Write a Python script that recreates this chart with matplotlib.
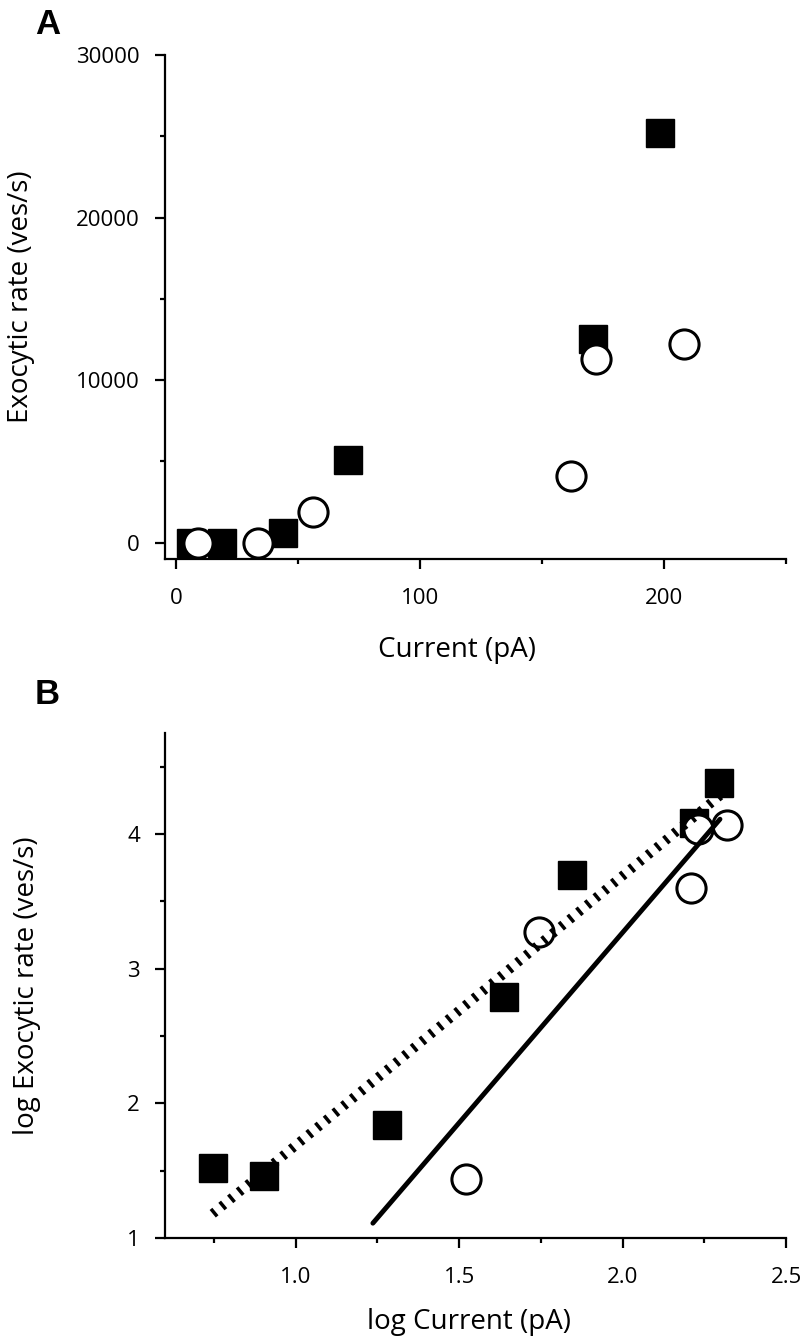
"""
Exocytic rate vs current, linear (A) and log-log (B)
"""

import matplotlib
matplotlib.use('Agg')
import matplotlib.pyplot as plt
from matplotlib.ticker import MultipleLocator

plt.rcParams['font.family'] = ['Open Sans', 'DejaVu Sans']

# panel A: linear scale
a_sq_x = [6, 19, 44, 70.5, 171, 198.5]
a_sq_y = [0, 0, 620, 5110, 12550, 25200]
a_ci_x = [9, 33.5, 56, 162, 172, 208]
a_ci_y = [0, 0, 1910, 4130, 11300, 12200]

# panel B: log-log
b_sq_x = [0.746, 0.902, 1.279, 1.638, 1.844, 2.22, 2.296]
b_sq_y = [1.52, 1.46, 1.837, 2.787, 3.694, 4.08, 4.38]
b_ci_x = [1.522, 1.745, 2.208, 2.23, 2.32]
b_ci_y = [1.44, 3.269, 3.60, 4.04, 4.07]

# fitted lines (endpoints)
fit_sq_x = [0.746, 2.30]
fit_sq_y = [1.18, 4.29]
fit_ci_x = [1.236, 2.298]
fit_ci_y = [1.11, 4.11]

W, H = 802, 1338
fig = plt.figure(figsize=(W / 100, H / 100), dpi=100)


def px_axes(left, top, right, bottom):
    return fig.add_axes([left / W, 1 - bottom / H, (right - left) / W, (bottom - top) / H])


def style(ax):
    for s in ['top', 'right']:
        ax.spines[s].set_visible(False)
    for s in ['left', 'bottom']:
        ax.spines[s].set_linewidth(1.6)
    ax.tick_params(which='major', length=7, width=1.6, labelsize=16)
    ax.tick_params(which='minor', length=3.5, width=1.6)
    ax.tick_params(axis='x', which='major', pad=14)
    ax.tick_params(axis='y', which='major', pad=11)


sq_kw = dict(marker='s', markersize=20, color='black', linestyle='none', zorder=3)
ci_kw = dict(marker='o', markersize=21, markerfacecolor='white', markeredgecolor='black',
             markeredgewidth=2.2, linestyle='none', zorder=4)

# ---- A ----
ax1 = px_axes(165, 55, 786, 559)
ax1.plot(a_sq_x, a_sq_y, **sq_kw)
ax1.plot(a_ci_x, a_ci_y, **ci_kw)
ax1.set_xlim(-4.5, 250)
ax1.set_ylim(-1000, 30000)
ax1.set_xticks([0, 100, 200])
ax1.xaxis.set_minor_locator(MultipleLocator(50))
ax1.set_yticks([0, 10000, 20000, 30000])
ax1.yaxis.set_minor_locator(MultipleLocator(5000))
style(ax1)
ax1.set_xlabel('Current (pA)', fontsize=20)
ax1.set_ylabel('Exocytic rate (ves/s)', fontsize=20)
ax1.xaxis.set_label_coords(0.47, -0.153)
ax1.yaxis.set_label_coords(-0.21, 0.52)

# ---- B ----
ax2 = px_axes(165, 733, 786, 1238)
ax2.plot(b_sq_x, b_sq_y, **sq_kw)
ax2.plot(b_ci_x, b_ci_y, **ci_kw)
ax2.plot(fit_sq_x, fit_sq_y, color='black', linewidth=7, dashes=(0.36, 0.8),
         solid_capstyle='butt', zorder=5)
ax2.plot(fit_ci_x, fit_ci_y, color='black', linewidth=3.5, solid_capstyle='round', zorder=5)
ax2.set_xlim(0.6, 2.5)
ax2.set_ylim(1, 4.75)
ax2.set_xticks([1.0, 1.5, 2.0, 2.5])
ax2.set_xticklabels(['1.0', '1.5', '2.0', '2.5'])
ax2.xaxis.set_minor_locator(MultipleLocator(0.25))
ax2.set_yticks([1, 2, 3, 4])
ax2.yaxis.set_minor_locator(MultipleLocator(0.5))
style(ax2)
ax2.set_xlabel('log Current (pA)', fontsize=20)
ax2.set_ylabel('log Exocytic rate (ves/s)', fontsize=20)
ax2.xaxis.set_label_coords(0.49, -0.139)
ax2.yaxis.set_label_coords(-0.20, 0.5)

# panel letters
fig.text(35 / W, 1 - 8 / H, 'A', fontsize=25, fontweight='bold', va='top', ha='left',
         family=['Liberation Sans', 'DejaVu Sans'])
fig.text(35 / W, 1 - 678 / H, 'B', fontsize=25, fontweight='bold', va='top', ha='left',
         family=['Liberation Sans', 'DejaVu Sans'])

fig.savefig('out.png', dpi=100)
plt.close(fig)
